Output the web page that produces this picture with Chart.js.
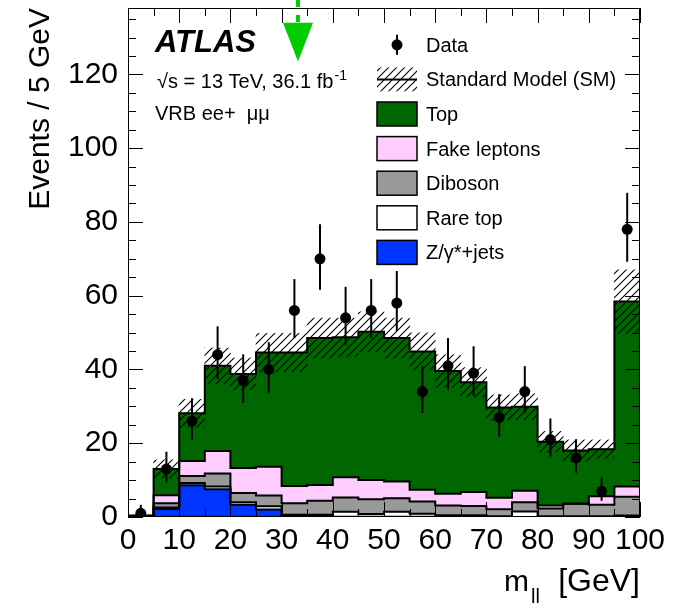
<!DOCTYPE html>
<html><head><meta charset="utf-8">
<script src="https://cdn.jsdelivr.net/npm/chart.js@4.4.1/dist/chart.umd.min.js"></script>
<style>html,body{margin:0;padding:0;background:#fff;}canvas{display:block;}</style>
</head><body>
<canvas id="c" width="681" height="611"></canvas>
<script>
// ---- data ----
const binEdges = [0,5,10,15,20,25,30,35,40,45,50,55,60,65,70,75,80,85,90,95,100];
const zJets       = [0.2,2.2,8.6,7.5,3.3,2.0,0.4,0.3,0.1,0.1,0.1,0.1,0.1,0.1,0.0,0.0,0.0,0.0,0.0,0.0];
const rareTop     = [0.0,0.4,0.6,0.8,0.7,0.9,0.2,0.3,1.3,0.7,1.3,0.8,0.4,0.4,0.2,1.5,0.2,0.2,0.2,0.4];
const diboson     = [0.1,1.1,1.9,3.5,2.5,2.9,3.1,3.8,3.9,4.0,3.7,3.3,2.6,2.5,1.9,2.5,2.1,3.4,3.1,5.1];
const fakeLeptons = [0.0,2.2,4.1,6.1,6.8,7.8,4.7,4.3,5.5,5.2,4.5,3.2,3.2,3.8,3.1,3.1,0.8,0.0,2.3,2.8];
const topBkg      = [0.1,7.1,12.9,23.1,25.5,31.0,36.2,39.8,37.9,40.2,38.9,37.5,33.3,29.7,24.5,22.8,17.3,14.4,12.8,50.1];
const smUnc       = [0.2,2.5,3.8,4.8,4.3,5.2,5.2,5.4,5.2,5.4,5.4,5.0,4.4,4.0,3.4,3.5,2.8,2.9,2.5,8.6];
const dataCounts  = [1,13,26,44,37,40,56,70,54,56,58,34,41,39,27,34,21,16,7,78];
const dataErrUp   = [2.3,4.7,6.2,7.7,7.1,7.4,8.5,9.4,8.4,8.5,8.7,6.9,7.5,7.3,6.3,6.9,5.7,5.1,3.8,9.9];
const dataErrDown = [0.8,3.6,5.1,6.6,6.1,6.3,7.5,8.4,7.3,7.5,7.6,5.8,6.4,6.2,5.2,5.8,4.6,4.0,2.6,8.8];
const legendLabels = ['Data','Standard Model (SM)','Top','Fake leptons','Diboson','Rare top','Z/\u03b3*+jets'];
const cutValue = 33.2;          // green arrow position (GeV)
const cutArrowTip = 123.5, cutArrowBase = 134;  // arrow head in axis units

const FONT = '"Liberation Sans", Arial, Helvetica, sans-serif';
const COL = {top:'#006600', fake:'#ffccff', dib:'#999999', rare:'#ffffff', z:'#0035ff'};

// ---- derived ----
const nb = dataCounts.length;
const centers = binEdges.slice(0,-1).map((e,i)=>(e+binEdges[i+1])/2);
const comps = [
  {vals:zJets, col:COL.z}, {vals:rareTop, col:COL.rare}, {vals:diboson, col:COL.dib},
  {vals:fakeLeptons, col:COL.fake}, {vals:topBkg, col:COL.top}
];
let run = new Array(nb).fill(0);
comps.forEach(c=>{ c.lo = run.slice(); run = run.map((v,i)=>v+c.vals[i]); c.hi = run.slice(); });
const total = run.slice();

function hatchPattern(ctx){
  const s=8, c=document.createElement('canvas'); c.width=s; c.height=s;
  const g=c.getContext('2d'); g.strokeStyle='#000'; g.lineWidth=1.1;
  g.beginPath();
  g.moveTo(0,s); g.lineTo(s,0);
  g.moveTo(-s/2,s/2); g.lineTo(s/2,-s/2);
  g.moveTo(s/2,s*1.5); g.lineTo(s*1.5,s/2);
  g.stroke();
  return ctx.createPattern(c,'repeat');
}
const canvas = document.getElementById('c');
const ctx0 = canvas.getContext('2d');
const hatch = hatchPattern(ctx0);

const datasets = [];
// data points
datasets.push({type:'line', label:'Data', order:0, showLine:false,
  data: centers.map((x,i)=>({x, y:dataCounts[i]})),
  pointRadius:5.5, pointBackgroundColor:'#000', pointBorderWidth:0, pointHoverRadius:5.5});
// uncertainty band
datasets.push({type:'bar', label:'SM unc', order:1, grouped:false,
  data: centers.map((x,i)=>({x, y:[total[i]-smUnc[i], total[i]+smUnc[i]]})),
  backgroundColor:hatch, borderWidth:0, barPercentage:1, categoryPercentage:1});
// outlines
comps.forEach((c,k)=>{
  datasets.push({type:'line', label:'edge'+k, order:2, stepped:'before',
    data: binEdges.map((x,i)=>({x, y:c.hi[Math.min(i,nb-1)]})),
    borderColor:'#000', borderWidth:2, pointRadius:0, fill:false});
});
// fills
comps.forEach((c,k)=>{
  datasets.push({type:'bar', label:'fill'+k, order:3, grouped:false,
    data: centers.map((x,i)=>({x, y:[c.lo[i], c.hi[i]]})),
    backgroundColor:c.col, borderWidth:0, barPercentage:1, categoryPercentage:1});
});

const decor = {
  id:'decor',
  afterDatasetsDraw(chart){
    const ctx = chart.ctx, xs = chart.scales.x, ys = chart.scales.y;
    const {left,right,top,bottom} = chart.chartArea;
    ctx.save();
    // error bars
    ctx.beginPath(); ctx.rect(left,top,right-left,bottom-top); ctx.clip();
    ctx.strokeStyle='#000'; ctx.lineWidth=2;
    for(let i=0;i<nb;i++){
      const x = xs.getPixelForValue(centers[i]);
      ctx.beginPath();
      ctx.moveTo(x, ys.getPixelForValue(dataCounts[i]+dataErrUp[i]));
      ctx.lineTo(x, ys.getPixelForValue(Math.max(0,dataCounts[i]-dataErrDown[i])));
      ctx.stroke();
    }
    ctx.restore();
    ctx.save();
    // frame
    ctx.strokeStyle='#000'; ctx.lineWidth=1;
    ctx.strokeRect(left+0.5, top+0.5, right-left-1, bottom-top-1);
    // ticks
    ctx.beginPath();
    for(let v=0; v<=ys.max; v+=5){
      const y = Math.round(ys.getPixelForValue(v))+0.5, L = (v%20===0)?15:8;
      ctx.moveTo(left,y); ctx.lineTo(left+L,y);
      ctx.moveTo(right,y); ctx.lineTo(right-L,y);
    }
    for(let v=0; v<=xs.max; v+=5){
      const x = Math.round(xs.getPixelForValue(v))+0.5, L = (v%10===0)?15:8;
      ctx.moveTo(x,bottom); ctx.lineTo(x,bottom-L);
      ctx.moveTo(x,top); ctx.lineTo(x,top+L);
    }
    ctx.stroke();
    ctx.restore();
  },
  afterDraw(chart){
    const ctx = chart.ctx, xs = chart.scales.x, ys = chart.scales.y;
    ctx.save();
    // cut arrow
    const ax = xs.getPixelForValue(cutValue);
    const yt = ys.getPixelForValue(cutArrowBase), yb = ys.getPixelForValue(cutArrowTip);
    ctx.strokeStyle='#00cc00'; ctx.lineWidth=4; ctx.setLineDash([7,8]);
    ctx.beginPath(); ctx.moveTo(ax,0); ctx.lineTo(ax,yt); ctx.stroke();
    ctx.setLineDash([]);
    ctx.fillStyle='#00cc00';
    ctx.beginPath(); ctx.moveTo(ax-15,yt); ctx.lineTo(ax+15,yt); ctx.lineTo(ax,yb); ctx.closePath(); ctx.fill();

    // ATLAS labels
    ctx.fillStyle='#000'; ctx.textBaseline='alphabetic'; ctx.textAlign='left';
    ctx.font = 'italic bold 31px '+FONT;
    ctx.fillText('ATLAS', 155, 52);
    ctx.font = '20px '+FONT;
    const s1 = '\u221As = 13 TeV, 36.1 fb';
    ctx.fillText(s1, 157, 88);
    const w1 = ctx.measureText(s1).width;
    ctx.font = '14px '+FONT;
    ctx.fillText('-1', 157+w1+1, 80);
    ctx.font = '20px '+FONT;
    ctx.fillText('VRB ee+  \u03bc\u03bc', 155, 120);

    // x-axis title
    ctx.font = '30px '+FONT;
    ctx.fillText('m', 504, 591);
    ctx.font = '20px '+FONT;
    ctx.fillText('ll', 531, 603);
    ctx.font = '32px '+FONT; ctx.textAlign='right';
    ctx.fillText('[GeV]', 640, 591);

    // legend
    ctx.textAlign='left';
    const bx = 377, bw = 40, bh = 24, tx = 426, y0 = 44.8, dy = 34.6;
    ctx.font = '20px '+FONT;
    legendLabels.forEach((lab,k)=>{
      const cy = y0 + k*dy;
      if(k===0){
        ctx.strokeStyle='#000'; ctx.lineWidth=2;
        ctx.beginPath(); ctx.moveTo(bx+bw/2, cy-10); ctx.lineTo(bx+bw/2, cy+10); ctx.stroke();
        ctx.beginPath(); ctx.arc(bx+bw/2, cy, 5.5, 0, Math.PI*2); ctx.fillStyle='#000'; ctx.fill();
      } else if(k===1){
        ctx.fillStyle = hatch; ctx.fillRect(bx, cy-bh/2, bw, bh);
        ctx.strokeStyle='#000'; ctx.lineWidth=2;
        ctx.beginPath(); ctx.moveTo(bx, cy); ctx.lineTo(bx+bw, cy); ctx.stroke();
      } else {
        const col = [COL.top, COL.fake, COL.dib, COL.rare, COL.z][k-2];
        ctx.fillStyle = col; ctx.fillRect(bx, cy-bh/2, bw, bh);
        ctx.strokeStyle='#000'; ctx.lineWidth=1.5;
        ctx.strokeRect(bx, cy-bh/2, bw, bh);
      }
      ctx.fillStyle='#000';
      ctx.fillText(lab, tx, cy+7);
    });
    ctx.restore();
  }
};

new Chart(canvas, {
  type:'bar',
  data:{datasets},
  options:{
    responsive:false, animation:false, devicePixelRatio:1,
    layout:{padding:{left:0,right:41,top:8,bottom:0}},
    plugins:{legend:{display:false}, tooltip:{enabled:false}},
    scales:{
      x:{type:'linear', min:0, max:100, offset:false,
        grid:{display:false, drawTicks:false}, border:{display:false},
        ticks:{stepSize:10, autoSkip:false, maxRotation:0, color:'#000', padding:6, font:{family:FONT, size:30}},
        afterFit(s){ s.height = 94; s.paddingLeft=0; s.paddingRight=0; }
      },
      y:{type:'linear', min:0, max:138,
        grid:{display:false, drawTicks:false}, border:{display:false},
        ticks:{stepSize:20, includeBounds:false, color:'#000', padding:10, font:{family:FONT, size:30}},
        title:{display:true, text:'Events / 5 GeV', align:'end', color:'#000', font:{family:FONT, size:30}, padding:{top:23,bottom:0}},
        afterFit(s){ s.width = 128; s.paddingTop=0; s.paddingBottom=0; }
      }
    }
  },
  plugins:[decor]
});
</script>
</body></html>
